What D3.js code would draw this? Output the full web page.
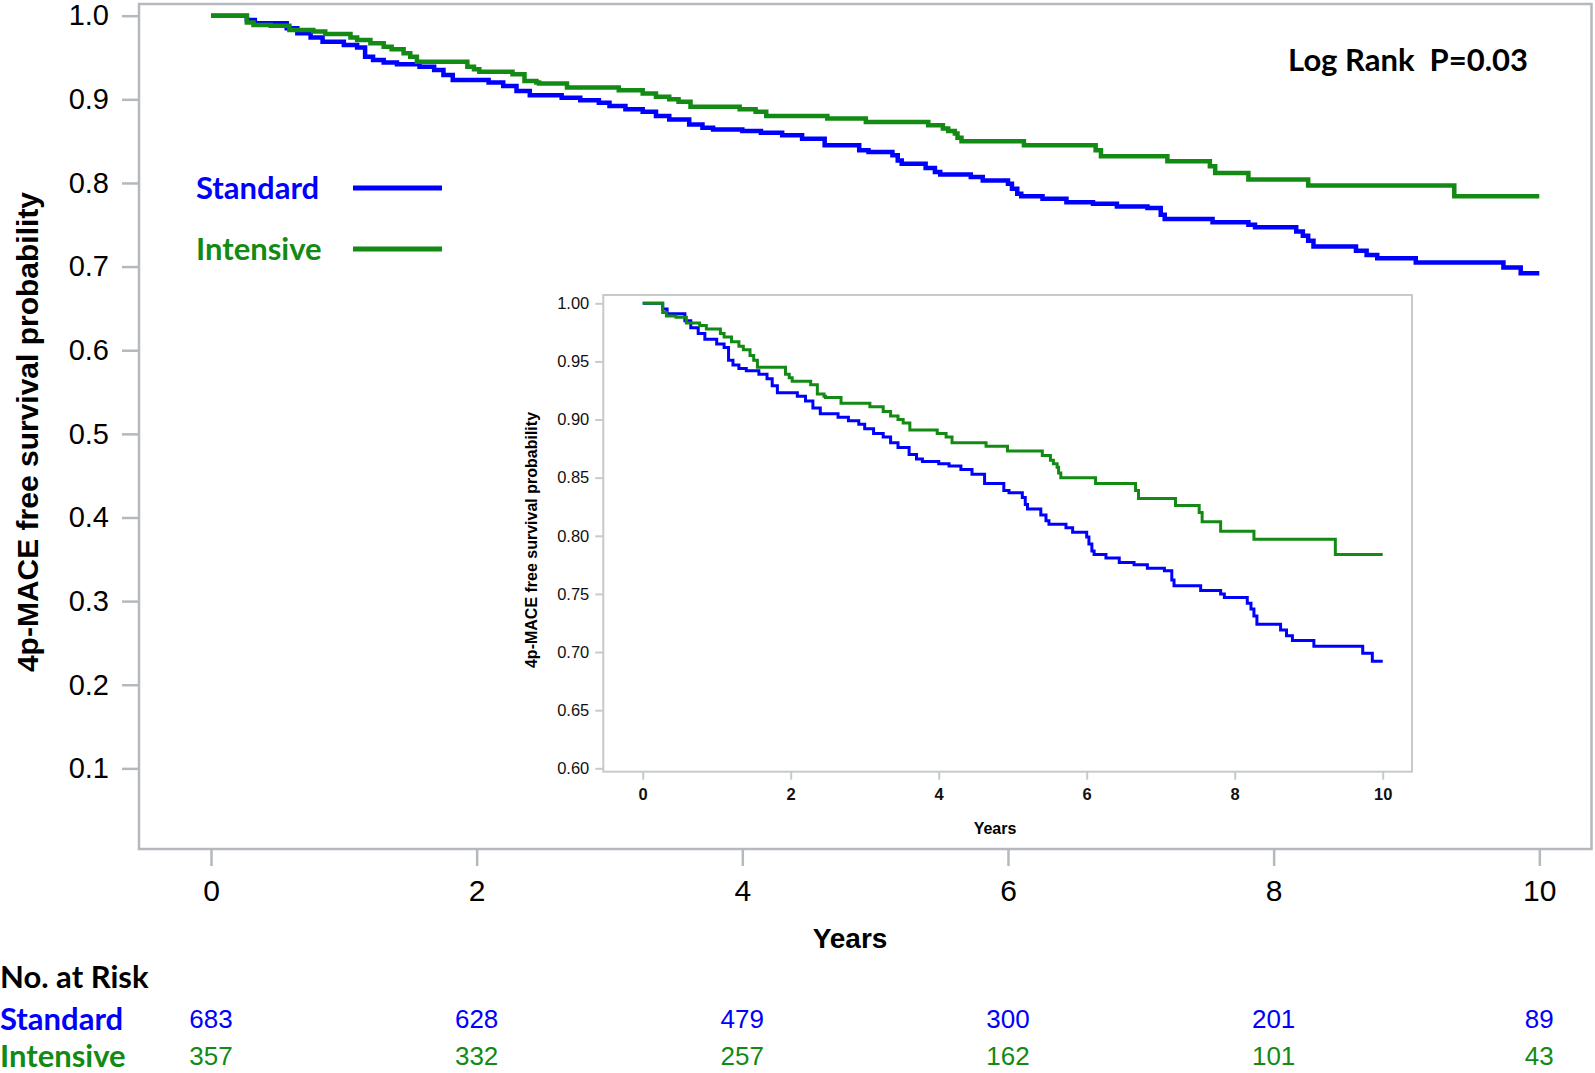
<!DOCTYPE html>
<html>
<head>
<meta charset="utf-8">
<script src="https://cdn.jsdelivr.net/npm/d3@7"></script>
<style>
  body { margin: 0; background: #fff; }
  svg text { font-family: "Liberation Sans", Arial, sans-serif; }
  .cal { font-family: Lato, "Open Sans", sans-serif !important; font-weight: bold; }
</style>
</head>
<body>
<div id="chart"></div>
<script>
// Kaplan-Meier steps (time in years, survival after the drop)
var stdTimes = [0, 0.27, 0.33, 0.57, 0.65, 0.75, 0.84, 1.0, 1.1, 1.16, 1.22, 1.3, 1.4, 1.57, 1.68, 1.75, 1.82,
  2.09, 2.2, 2.3, 2.4, 2.64, 2.78, 2.92, 3.0, 3.12, 3.25, 3.35, 3.45, 3.6, 3.7, 3.78, 4.0, 4.14, 4.3, 4.45,
  4.62, 4.88, 4.95, 5.13, 5.17, 5.2, 5.38, 5.45, 5.49, 5.72, 5.81, 6.0, 6.03, 6.07, 6.1, 6.26, 6.44, 6.64,
  6.82, 7.05, 7.15, 7.18, 7.54, 7.81, 7.86, 8.17, 8.22, 8.26, 8.3, 8.62, 8.7, 8.78, 9.07, 9.73, 9.86, 10.0];
var stdSurv = [1.0, 0.995, 0.991, 0.985, 0.979, 0.974, 0.969, 0.965, 0.962, 0.951, 0.947, 0.944, 0.942, 0.939, 0.935, 0.929, 0.923,
  0.920, 0.916, 0.910, 0.905, 0.902, 0.899, 0.896, 0.892, 0.888, 0.885, 0.880, 0.876, 0.870, 0.866, 0.864, 0.862, 0.860, 0.857, 0.853,
  0.845, 0.839, 0.837, 0.833, 0.827, 0.823, 0.818, 0.813, 0.810, 0.807, 0.803, 0.799, 0.793, 0.787, 0.784, 0.781, 0.777, 0.775,
  0.772, 0.770, 0.762, 0.757, 0.753, 0.750, 0.747, 0.742, 0.737, 0.731, 0.724, 0.719, 0.714, 0.710, 0.705, 0.699, 0.692, 0.692];

var intTimes = [0, 0.27, 0.32, 0.45, 0.59, 0.77, 0.86, 1.05, 1.1, 1.2, 1.3, 1.36, 1.45, 1.5, 1.55, 1.93, 1.98, 2.02,
  2.27, 2.36, 2.45, 2.47, 2.68, 3.07, 3.25, 3.35, 3.45, 3.52, 3.61, 3.98, 4.1, 4.18, 4.64, 4.93, 5.4, 5.51,
  5.55, 5.6, 5.62, 5.65, 6.12, 6.66, 6.7, 7.2, 7.52, 7.56, 7.81, 8.26, 9.36, 10.0];
var intSurv = [1.0, 0.992, 0.989, 0.988, 0.983, 0.981, 0.978, 0.974, 0.971, 0.967, 0.963, 0.960, 0.955, 0.951, 0.945, 0.939, 0.936, 0.933,
  0.930, 0.922, 0.920, 0.919, 0.914, 0.911, 0.907, 0.903, 0.900, 0.897, 0.891, 0.888, 0.885, 0.880, 0.877, 0.873, 0.869, 0.865,
  0.862, 0.859, 0.854, 0.850, 0.845, 0.839, 0.832, 0.826, 0.820, 0.812, 0.804, 0.797, 0.784, 0.784];

var groups = ["Standard", "Intensive"];
var riskTimes = [0, 2, 4, 6, 8, 10];
var stdRisk = [683, 628, 479, 300, 201, 89];
var intRisk = [357, 332, 257, 162, 101, 43];
var mainYTicks = [0.1, 0.2, 0.3, 0.4, 0.5, 0.6, 0.7, 0.8, 0.9, 1.0];
var insetYTicks = [0.60, 0.65, 0.70, 0.75, 0.80, 0.85, 0.90, 0.95, 1.00];
var xTicks = [0, 2, 4, 6, 8, 10];

var BLUE = "#0000ff", GREEN = "#138a13", FRAME = "#b5b9bd";
var W = 1595, H = 1073;

var svg = d3.select("#chart").append("svg")
  .attr("width", W).attr("height", H);

var stdData = stdTimes.map((t, i) => [t, stdSurv[i]]);
var intData = intTimes.map((t, i) => [t, intSurv[i]]);

// ---------- main panel ----------
var x = d3.scaleLinear().domain([0, 10]).range([211, 1539.3]);
var y = d3.scaleLinear().domain([0, 1]).range([852, 15.7]);

svg.append("rect")
  .attr("x", 139).attr("y", 4).attr("width", 1591.5 - 139).attr("height", 849 - 4)
  .attr("fill", "#fff").attr("stroke", FRAME).attr("stroke-width", 2.5);

var yAx = svg.append("g").attr("transform", "translate(139,0)")
  .call(d3.axisLeft(y).tickValues(mainYTicks).tickFormat(d3.format(".1f")).tickSize(17).tickPadding(13));
var xAx = svg.append("g").attr("transform", "translate(0,849)")
  .call(d3.axisBottom(x).tickValues(xTicks).tickFormat(d3.format("d")).tickSize(17).tickPadding(14));
[yAx, xAx].forEach(function(g) {
  g.select(".domain").remove();
  g.selectAll("line").attr("stroke", FRAME).attr("stroke-width", 2.5);
  g.selectAll("text").attr("fill", "#000").style("font-size", "29px");
});
xAx.selectAll("text").style("font-size", "30px");

svg.append("text")
  .attr("transform", "translate(38,432) rotate(-90)")
  .attr("text-anchor", "middle")
  .style("font-size", "30px").style("font-weight", "bold")
  .text("4p-MACE free survival probability");
svg.append("text")
  .attr("x", 850).attr("y", 948).attr("text-anchor", "middle")
  .style("font-size", "28px").style("font-weight", "bold")
  .text("Years");

var line = d3.line().curve(d3.curveStepAfter).x(d => x(d[0])).y(d => y(d[1]));
svg.append("path").datum(stdData).attr("d", line)
  .attr("fill", "none").attr("stroke", BLUE).attr("stroke-width", 4.5);
svg.append("path").datum(intData).attr("d", line)
  .attr("fill", "none").attr("stroke", GREEN).attr("stroke-width", 4.5);

// legend
var legY = [188, 249];
groups.forEach(function(g, i) {
  svg.append("text").attr("class", "cal")
    .attr("x", 196).attr("y", legY[i]).attr("dy", "0.35em")
    .attr("fill", i ? GREEN : BLUE).style("font-size", "31px")
    .text(g);
  svg.append("line")
    .attr("x1", 353).attr("x2", 442).attr("y1", legY[i]).attr("y2", legY[i])
    .attr("stroke", i ? GREEN : BLUE).attr("stroke-width", 5);
});

svg.append("text").attr("class", "cal")
  .attr("x", 1528).attr("y", 71).attr("text-anchor", "end")
  .style("font-size", "31px").style("white-space", "pre")
  .text("Log Rank  P=0.03");

// ---------- inset ----------
var xi = d3.scaleLinear().domain([0, 10]).range([642.7, 1382.7]);
var yi = d3.scaleLinear().domain([0.6, 1.0]).range([768.3, 303.3]);

svg.append("rect")
  .attr("x", 603.3).attr("y", 295).attr("width", 1412 - 603.3).attr("height", 771.7 - 295)
  .attr("fill", "#fff").attr("stroke", "#c6cacd").attr("stroke-width", 2);

var yiAx = svg.append("g").attr("transform", "translate(603.3,0)")
  .call(d3.axisLeft(yi).tickValues(insetYTicks).tickFormat(d3.format(".2f")).tickSize(8).tickPadding(6));
var xiAx = svg.append("g").attr("transform", "translate(0,771.7)")
  .call(d3.axisBottom(xi).tickValues(xTicks).tickFormat(d3.format("d")).tickSize(8).tickPadding(9));
[yiAx, xiAx].forEach(function(g) {
  g.select(".domain").remove();
  g.selectAll("line").attr("stroke", "#c6cacd").attr("stroke-width", 2);
  g.selectAll("text").attr("fill", "#111").style("font-size", "16.5px");
});
xiAx.selectAll("text").style("font-weight", "bold");

svg.append("text")
  .attr("transform", "translate(537,540) rotate(-90)")
  .attr("text-anchor", "middle")
  .style("font-size", "16px").style("font-weight", "bold")
  .text("4p-MACE free survival probability");
svg.append("text")
  .attr("x", 995).attr("y", 834).attr("text-anchor", "middle")
  .style("font-size", "16px").style("font-weight", "bold")
  .text("Years");

var lineI = d3.line().curve(d3.curveStepAfter).x(d => xi(d[0])).y(d => yi(d[1]));
svg.append("path").datum(stdData).attr("d", lineI)
  .attr("fill", "none").attr("stroke", BLUE).attr("stroke-width", 3);
svg.append("path").datum(intData).attr("d", lineI)
  .attr("fill", "none").attr("stroke", GREEN).attr("stroke-width", 3);

// ---------- number at risk ----------
svg.append("text").attr("class", "cal")
  .attr("x", 0).attr("y", 977).attr("dy", "0.35em")
  .style("font-size", "31px").text("No. at Risk");

var rows = [stdRisk, intRisk], rowY = [1019, 1056];
rows.forEach(function(vals, r) {
  var col = r ? GREEN : BLUE;
  svg.append("text").attr("class", "cal")
    .attr("x", 0).attr("y", rowY[r]).attr("dy", "0.35em")
    .attr("fill", col).style("font-size", "31px").text(groups[r]);
  svg.append("g").selectAll("text")
    .data(vals).enter().append("text")
      .attr("x", (d, i) => x(riskTimes[i]))
      .attr("y", rowY[r]).attr("dy", "0.36em")
      .attr("text-anchor", "middle")
      .attr("fill", col).style("font-size", "26px")
      .text(d => d);
});
</script>
</body>
</html>
